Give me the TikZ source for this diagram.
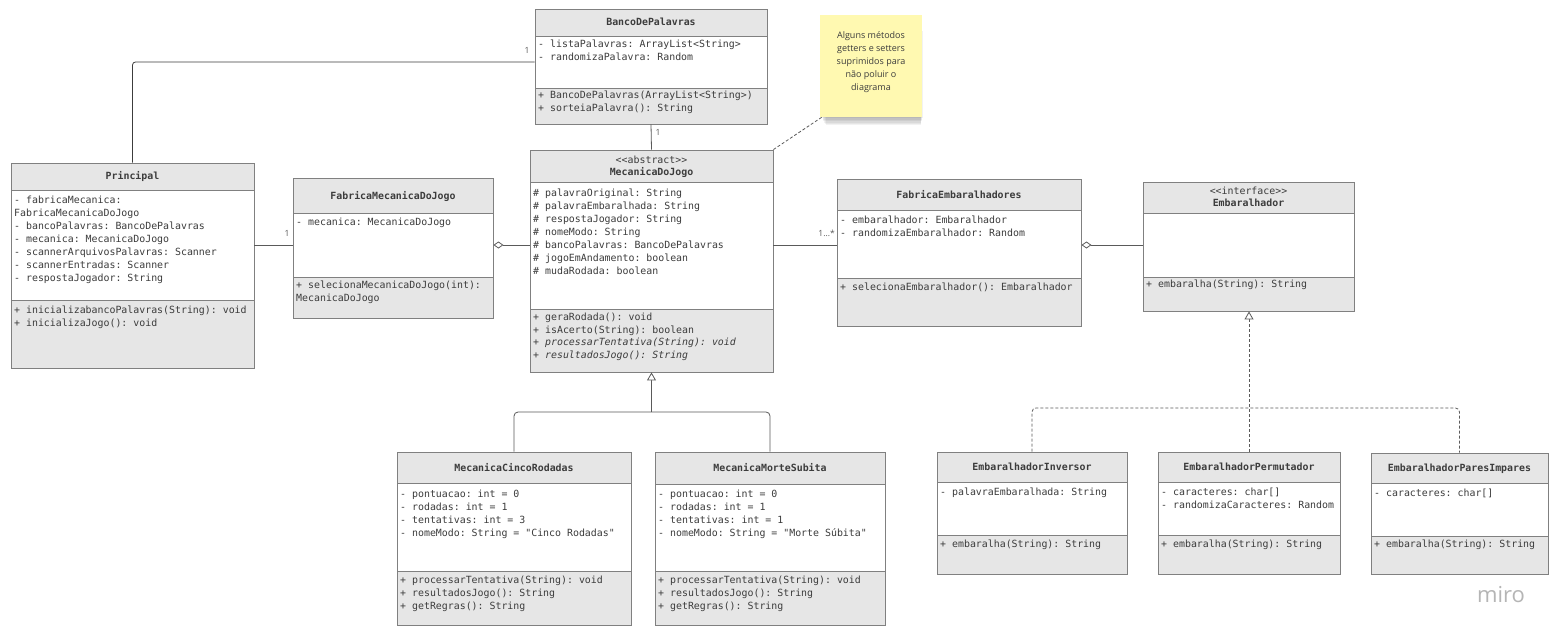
\documentclass[tikz,border=0pt]{standalone}
\usepackage{fontspec}
\setmonofont{DejaVu Sans Mono}
\newfontfamily\notefont{Open Sans}
\usetikzlibrary{arrows.meta,fit,calc}
\definecolor{hdr}{HTML}{E6E6E6}
\definecolor{bord}{HTML}{808080}
\definecolor{txt}{HTML}{3C3C3C}
\definecolor{lnk}{HTML}{5A5A5A}
\definecolor{notey}{HTML}{FFF9B1}
\definecolor{miroc}{HTML}{B5B5B5}
\tikzset{
  memb/.style={font=\ttfamily\fontsize{9.9}{12}\selectfont, text=txt, inner sep=0pt, anchor=base west},
  hname/.style={font=\ttfamily\bfseries\fontsize{9.9}{12}\selectfont, text=txt, inner sep=0pt, anchor=base},
  stereo/.style={font=\ttfamily\fontsize{9.9}{12}\selectfont, text=txt, inner sep=0pt, anchor=base},
  assoc/.style={draw=lnk, line width=0.8pt},
  real/.style={draw=lnk, line width=0.8pt, dash pattern=on 3pt off 2pt},
  mult/.style={font=\notefont\fontsize{8.5}{10}\selectfont, text=lnk, inner sep=0pt},
  gentip/.style={-{Triangle[length=8pt,width=9pt,fill=white]}},
  aggtip/.style={{Diamond[length=10pt,width=7pt,fill=white]}-},
}
% name, x1, y1, x2, y header bottom, y divider, y2
\newcommand\umlclass[7]{%
  \fill[hdr] (#2,#3) rectangle (#4,#5);
  \fill[white] (#2,#5) rectangle (#4,#6);
  \fill[hdr] (#2,#6) rectangle (#4,#7);
  \draw[bord, line width=0.9pt] (#2,#5) -- (#4,#5) (#2,#6) -- (#4,#6);
  \node[fit={(#2,#3) (#4,#7)}, inner sep=0pt, draw=bord, line width=0.9pt] (#1) {};
}
% x, y centre of first line, list
\newcommand\members[3]{%
  \foreach \mline [count=\i from 0] in {#3} \node[memb] at (#1,{#2+3.5+13*\i}) {\mline};
}
\begin{document}
\begin{tikzpicture}[x=1pt,y=-1pt]
\fill[white] (0,0) rectangle (1562,639);
\useasboundingbox (0,0) rectangle (1562,639);

% ---------- BancoDePalavras
\umlclass{Banco}{535}{9}{767}{36}{88}{124}
\node[hname] (BancoN) at (651,26) {BancoDePalavras};
\members{538}{44}{{- listaPalavras: ArrayList<String>},{- randomizaPalavra: Random}}
\members{538}{95}{{+ BancoDePalavras(ArrayList<String>)},{+ sorteiaPalavra(): String}}

% ---------- Principal
\umlclass{Principal}{11}{163}{254}{190}{300}{368}
\node[hname] (PrincipalN) at (132.5,180) {Principal};
\members{14}{200}{{- fabricaMecanica:},{FabricaMecanicaDoJogo},{- bancoPalavras: BancoDePalavras},{- mecanica: MecanicaDoJogo},{- scannerArquivosPalavras: Scanner},{- scannerEntradas: Scanner},{- respostaJogador: String}}
\members{14}{310}{{+ inicializabancoPalavras(String): void},{+ inicializaJogo(): void}}

% ---------- FabricaMecanicaDoJogo
\umlclass{FMJ}{293}{178}{493}{213}{277}{318}
\node[hname] (FMJN) at (393,199) {FabricaMecanicaDoJogo};
\members{296}{222}{{- mecanica: MecanicaDoJogo}}
\members{296}{285}{{+ selecionaMecanicaDoJogo(int):},{MecanicaDoJogo}}

% ---------- MecanicaDoJogo
\umlclass{Mec}{530}{150}{773}{182}{309}{372}
\node[stereo] (MecS) at (651.5,163.5) {<<abstract>>};
\node[hname] (MecN) at (651.5,175.5) {MecanicaDoJogo};
\members{533}{193}{{\# palavraOriginal: String},{\# palavraEmbaralhada: String},{\# respostaJogador: String},{\# nomeModo: String},{\# bancoPalavras: BancoDePalavras},{\# jogoEmAndamento: boolean},{\# mudaRodada: boolean}}
\foreach \mline [count=\i from 0] in {{+ geraRodada(): void},{+ isAcerto(String): boolean},{+ \textit{processarTentativa(String): void}},{+ \textit{resultadosJogo(): String}}}
  \node[memb] at (533,{317+3.5+12.7*\i}) {\mline};

% ---------- FabricaEmbaralhadores
\umlclass{FE}{837}{179}{1081}{210}{278}{326}
\node[hname] (FEN) at (959,198) {FabricaEmbaralhadores};
\members{840}{220}{{- embaralhador: Embaralhador},{- randomizaEmbaralhador: Random}}
\members{840}{287}{{+ selecionaEmbaralhador(): Embaralhador}}

% ---------- Embaralhador
\umlclass{Emb}{1143}{182}{1354}{213}{277}{311}
\node[stereo] (EmbS) at (1248.5,194.5) {<<interface>>};
\node[hname] (EmbN) at (1248.5,206.5) {Embaralhador};
\members{1146}{284}{{+ embaralha(String): String}}

% ---------- MecanicaCincoRodadas
\umlclass{Cinco}{397}{452}{631}{483}{571}{625}
\node[hname] (CincoN) at (514,471) {MecanicaCincoRodadas};
\members{400}{494}{{- pontuacao: int = 0},{- rodadas: int = 1},{- tentativas: int = 3},{- nomeModo: String = "Cinco Rodadas"}}
\members{400}{580}{{+ processarTentativa(String): void},{+ resultadosJogo(): String},{+ getRegras(): String}}

% ---------- MecanicaMorteSubita
\umlclass{Morte}{655}{452}{885}{484}{571}{625}
\node[hname] (MorteN) at (770,471.5) {MecanicaMorteSubita};
\members{658}{494}{{- pontuacao: int = 0},{- rodadas: int = 1},{- tentativas: int = 1},{- nomeModo: String = "Morte Súbita"}}
\members{658}{580}{{+ processarTentativa(String): void},{+ resultadosJogo(): String},{+ getRegras(): String}}

% ---------- EmbaralhadorInversor
\umlclass{Inv}{937}{452}{1127}{482}{535}{574}
\node[hname] (InvN) at (1032,470.5) {EmbaralhadorInversor};
\members{940}{492}{{- palavraEmbaralhada: String}}
\members{940}{544}{{+ embaralha(String): String}}

% ---------- EmbaralhadorPermutador
\umlclass{Perm}{1158}{452}{1340}{482}{535}{574}
\node[hname] (PermN) at (1249,470.5) {EmbaralhadorPermutador};
\members{1161}{492}{{- caracteres: char[]},{- randomizaCaracteres: Random}}
\members{1161}{544}{{+ embaralha(String): String}}

% ---------- EmbaralhadorParesImpares
\umlclass{Par}{1371}{453}{1548}{483}{536}{574}
\node[hname] (ParN) at (1459.5,471.5) {EmbaralhadorParesImpares};
\members{1374}{493}{{- caracteres: char[]}}
\members{1374}{544}{{+ embaralha(String): String}}

% ---------- Note
\foreach \k in {1,...,6}
  \fill[black, opacity=0.05] ({821+\k*0.8},{30+\k}) rectangle ({923-\k*0.4},{117+\k*1.4});
\node[fit={(820,15) (922,117)}, inner sep=0pt, fill=notey] (note) {};
\node[font=\notefont\fontsize{9}{13}\selectfont, text=txt, align=center, inner sep=0pt] (noteT) at (871,62.5)
  {Alguns métodos\\getters e setters\\suprimidos para\\não poluir o\\diagrama};

% ---------- Connectors
\coordinate (row) at (0,245);
\coordinate (rowtop) at (0,62);
\coordinate (rowgen) at (0,412);
\coordinate (rowreal) at (0,408);

\draw[assoc, draw=txt, rounded corners=3pt] (Principal.north) |- (Banco.west |- rowtop);
\node[mult] (mBanco) at (527,50) {1};

\draw[assoc] (Principal.east |- row) -- (FMJ.west |- row);
\node[mult] (mFMJ) at (287,233) {1};

\draw[assoc, aggtip] (FMJ.east |- row) -- (Mec.west |- row);

\draw[assoc] (Banco.south) -- (Mec.north);
\node[mult] (mMec) at (658,132) {1};

\draw[assoc] (Mec.east |- row) -- (FE.west |- row);
\node[mult, anchor=east] (mFE) at (835,233) {1...*};

\draw[assoc, aggtip] (FE.east |- row) -- (Emb.west |- row);

\coordinate (genj) at (Mec.south |- rowgen);
\draw[assoc, rounded corners=4pt] (Cinco.north) |- (genj) -| (Morte.north);
\draw[assoc, gentip] (genj) -- (Mec.south);

\coordinate (realR) at (Par.north |- rowreal);
\draw[real, rounded corners=4pt] (Inv.north) |- (realR) -- (Par.north);
\draw[real, gentip] (Perm.north) -- (Perm.north |- Emb.south);

\draw[real] (Mec.north east) -- ([xshift=2pt]note.south west);

% ---------- miro
\node[font=\notefont\fontsize{22}{22}\selectfont, text=miroc, anchor=base, inner sep=0pt] (miro) at (1501,602) {miro};
\end{tikzpicture}
\end{document}
